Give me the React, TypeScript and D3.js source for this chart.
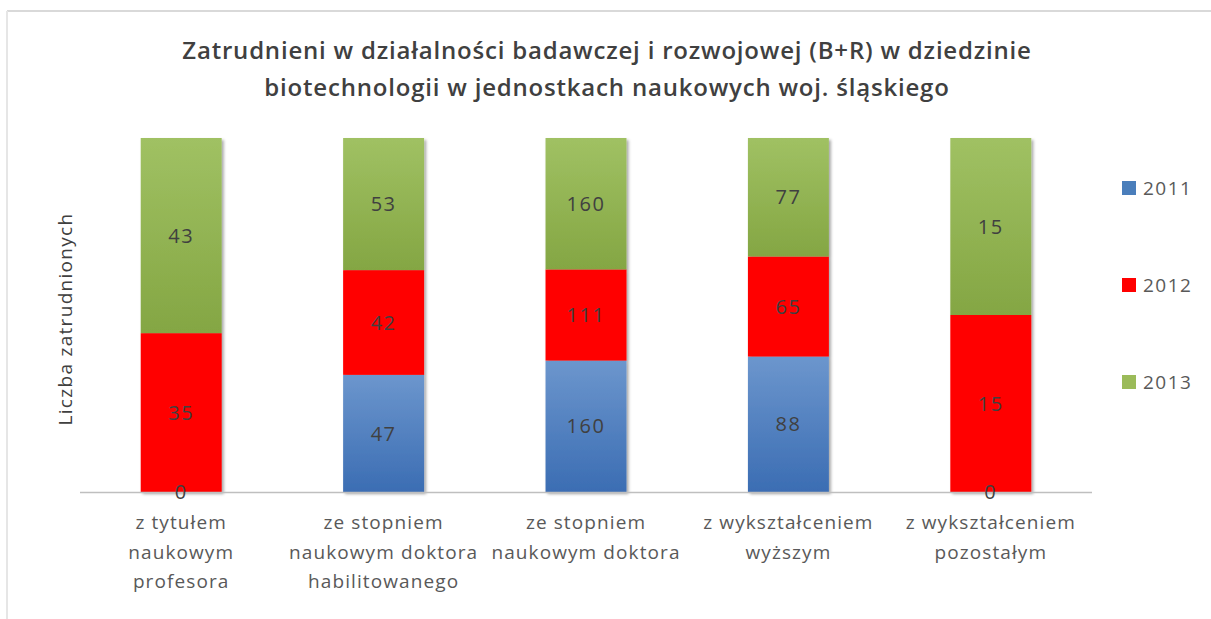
import * as d3 from "d3";

const categories = [
  ["z tytułem", "naukowym", "profesora"],
  ["ze stopniem", "naukowym doktora", "habilitowanego"],
  ["ze stopniem", "naukowym doktora"],
  ["z wykształceniem", "wyższym"],
  ["z wykształceniem", "pozostałym"],
];
const years = ["2011", "2012", "2013"];
const values2011 = [0, 47, 160, 88, 0];
const values2012 = [35, 42, 111, 65, 15];
const values2013 = [43, 53, 160, 77, 15];

const title = [
  "Zatrudnieni w działalności badawczej i rozwojowej (B+R) w dziedzinie",
  "biotechnologii w jednostkach naukowych woj. śląskiego",
];
const yTitle = "Liczba zatrudnionych";

const width = 1211;
const height = 619;
const marginLeft = 80;
const marginRight = 119;
const marginTop = 138;
const marginBottom = 127;

const font = "'Open Sans', sans-serif";
const fills = ["url(#gBlue)", "#ff0000", "url(#gGreen)"];
const legendColors = ["#4a7ebb", "#ff0000", "#9bbb59"];

export default function App() {
  const rows = categories.map((c, i) => ({
    key: String(i),
    "2011": values2011[i],
    "2012": values2012[i],
    "2013": values2013[i],
  }));
  const stack = d3.stack<any>().keys(years).offset(d3.stackOffsetExpand);
  const series = stack(rows);

  const x = d3
    .scaleBand<string>()
    .domain(rows.map((r) => r.key))
    .range([marginLeft, width - marginRight])
    .paddingInner(0.6)
    .paddingOuter(0.3);
  const y = d3.scaleLinear([0, 1], [height - marginBottom, marginTop]);
  const legendY = d3.scalePoint<string>().domain(years).range([188, 382]);

  return (
    <svg
      width={width}
      height={height}
      style={{ position: "absolute", left: 0, top: 0, background: "#fff" }}
    >
      <defs>
        <linearGradient id="gBlue" x1="0" y1="0" x2="0" y2="1">
          <stop offset="0" stopColor="#6c96cd" />
          <stop offset="1" stopColor="#3b6db3" />
        </linearGradient>
        <linearGradient id="gGreen" x1="0" y1="0" x2="0" y2="1">
          <stop offset="0" stopColor="#a0c163" />
          <stop offset="1" stopColor="#84a643" />
        </linearGradient>
        <filter id="shadow" x="-20%" y="-5%" width="140%" height="110%">
          <feDropShadow dx="2" dy="2" stdDeviation="1.5" floodColor="#000" floodOpacity="0.35" />
        </filter>
      </defs>

      {/* frame */}
      <line x1={7} x2={width} y1={11} y2={11} stroke="#d9d9d9" strokeWidth={2} />
      <line x1={7} x2={7} y1={11} y2={height} stroke="#e6e6e6" strokeWidth={2} />

      {/* title */}
      <text
        x={607}
        textAnchor="middle"
        fontFamily={font}
        fontWeight={600}
        fontSize={24}
        letterSpacing={0.8}
        fill="#404040"
      >
        {title.map((t, i) => (
          <tspan key={i} x={607} y={59 + i * 37}>
            {t}
          </tspan>
        ))}
      </text>

      {/* y axis title */}
      <text
        transform="translate(72,319) rotate(-90)"
        textAnchor="middle"
        fontFamily={font}
        fontSize={19}
        letterSpacing={1.3}
        fill="#404040"
      >
        {yTitle}
      </text>

      {/* bars */}
      <g filter="url(#shadow)">
        {series.map((s, si) =>
          s.map((d, i) => (
            <rect
              key={`${si}-${i}`}
              x={x(String(i))}
              y={y(d[1])}
              width={x.bandwidth()}
              height={Math.max(0, y(d[0]) - y(d[1]))}
              fill={fills[si]}
            />
          ))
        )}
      </g>

      {/* axis line */}
      <line
        x1={marginLeft}
        x2={width - marginRight}
        y1={y(0) + 0.5}
        y2={y(0) + 0.5}
        stroke="#bfbfbf"
        strokeWidth={1.5}
      />

      {/* data labels */}
      <g fontFamily={font} fontSize={20} fill="#404040" textAnchor="middle" letterSpacing={1.5}>
        {series.map((s, si) =>
          s.map((d, i) => (
            <text
              key={`${si}-${i}`}
              x={(x(String(i)) as number) + x.bandwidth() / 2}
              y={(y(d[0]) + y(d[1])) / 2}
              dy="0.36em"
            >
              {d.data[years[si]]}
            </text>
          ))
        )}
      </g>

      {/* category labels */}
      <g fontFamily={font} fontSize={19} fill="#595959" textAnchor="middle" letterSpacing={1.1}>
        {categories.map((c, i) => (
          <text key={i}>
            {c.map((line, li) => (
              <tspan
                key={li}
                x={(x(String(i)) as number) + x.bandwidth() / 2}
                y={529 + li * 29.5}
              >
                {line}
              </tspan>
            ))}
          </text>
        ))}
      </g>

      {/* legend */}
      <g fontFamily={font} fontSize={19} fill="#595959" letterSpacing={1.5}>
        {years.map((yr, i) => (
          <g key={yr} transform={`translate(1122,${legendY(yr)})`}>
            <rect x={0} y={-7} width={14} height={14} fill={legendColors[i]} />
            <text x={21} dy="0.36em">
              {yr}
            </text>
          </g>
        ))}
      </g>
    </svg>
  );
}
